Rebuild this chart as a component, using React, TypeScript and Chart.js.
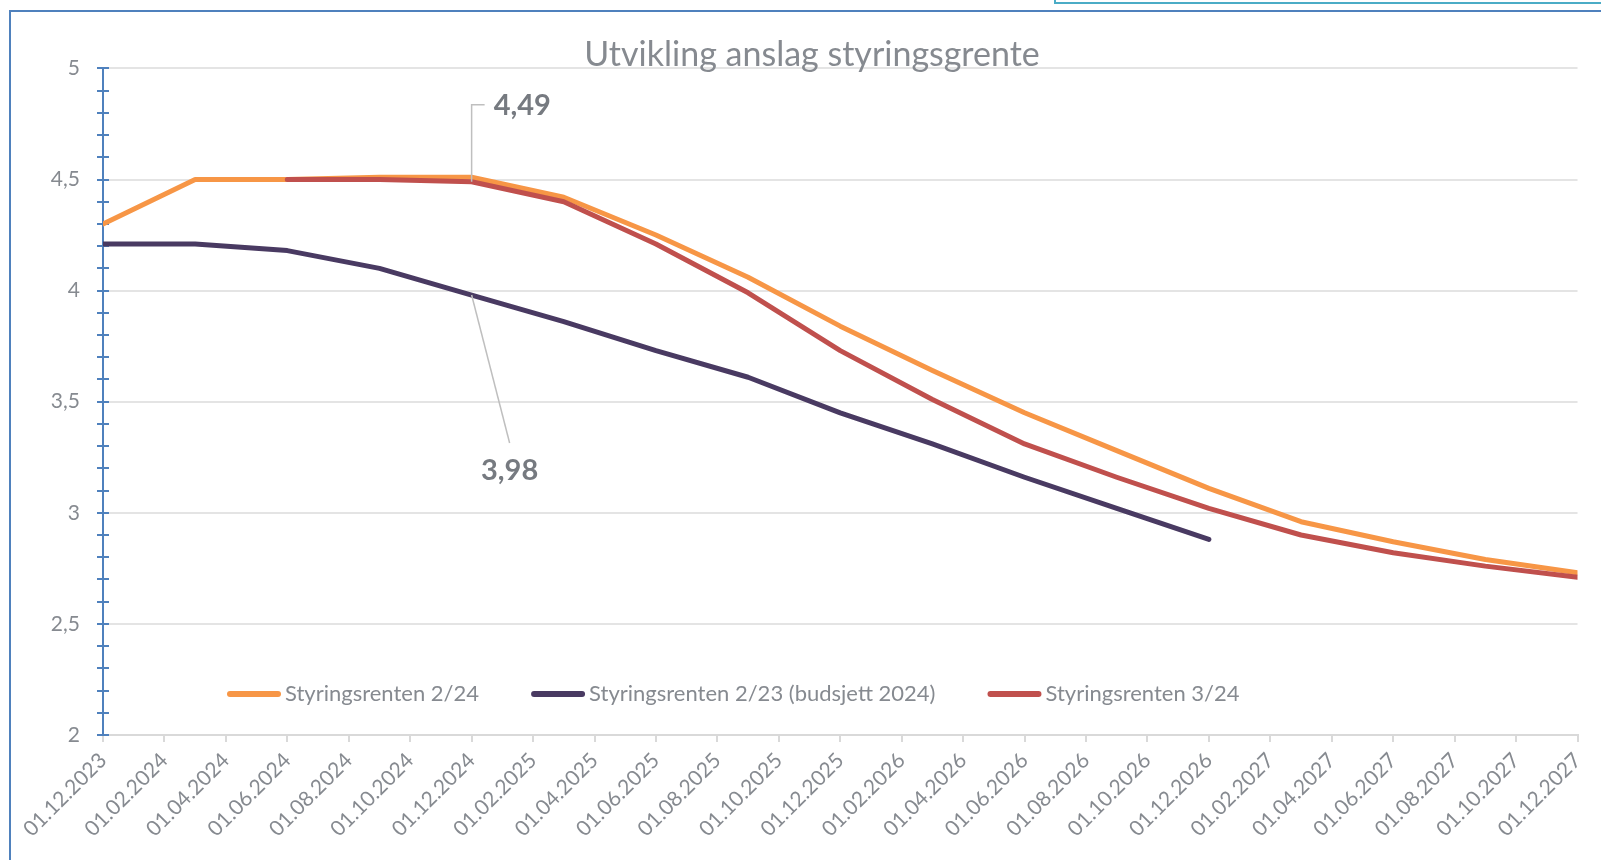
import React, { useEffect, useRef } from 'react';
import Chart from 'chart.js/auto';

const chartTitle = 'Utvikling anslag styringsgrente';

const xTickLabels = [
  '01.12.2023', '01.02.2024', '01.04.2024', '01.06.2024', '01.08.2024', '01.10.2024', '01.12.2024',
  '01.02.2025', '01.04.2025', '01.06.2025', '01.08.2025', '01.10.2025', '01.12.2025',
  '01.02.2026', '01.04.2026', '01.06.2026', '01.08.2026', '01.10.2026', '01.12.2026',
  '01.02.2027', '01.04.2027', '01.06.2027', '01.08.2027', '01.10.2027', '01.12.2027',
];

const forecastDates = [
  '01.12.2023', '01.03.2024', '01.06.2024', '01.09.2024', '01.12.2024',
  '01.03.2025', '01.06.2025', '01.09.2025', '01.12.2025',
  '01.03.2026', '01.06.2026', '01.09.2026', '01.12.2026',
  '01.03.2027', '01.06.2027', '01.09.2027', '01.12.2027',
];

const seriesNames = [
  'Styringsrenten 2/24',
  'Styringsrenten 2/23 (budsjett 2024)',
  'Styringsrenten 3/24',
];

const rente224: (number | null)[] = [4.30, 4.50, 4.50, 4.51, 4.51, 4.42, 4.25, 4.06, 3.84, 3.64, 3.45, 3.28, 3.11, 2.96, 2.87, 2.79, 2.73];
const rente223: (number | null)[] = [4.21, 4.21, 4.18, 4.10, 3.98, 3.86, 3.73, 3.61, 3.45, 3.31, 3.16, 3.02, 2.88, null, null, null, null];
const rente324: (number | null)[] = [null, null, 4.50, 4.50, 4.49, 4.40, 4.21, 3.99, 3.73, 3.51, 3.31, 3.16, 3.02, 2.90, 2.82, 2.76, 2.71];

const seriesColors = ['#F79646', '#493A62', '#C0504D'];

const yMin = 2;
const yMax = 5;
const yMinorStep = 0.1;
const yMajorStep = 0.5;

// callouts: [series index, date]
const calloutSeries = [2, 1];
const calloutDates = ['01.12.2024', '01.12.2024'];

const TEXT = '#868A90';
const FONT = 'Lato, "Open Sans", sans-serif';

function monthIndex(d: string): number {
  const [, mm, yyyy] = d.split('.').map(Number);
  return (yyyy - 2023) * 12 + (mm - 12);
}
const xFirst = monthIndex(xTickLabels[0]);
const xLast = monthIndex(xTickLabels[xTickLabels.length - 1]);
const xStep = monthIndex(xTickLabels[1]) - xFirst;

const seriesValues = [rente224, rente223, rente324];

function toPoints(vals: (number | null)[]) {
  return forecastDates.map((d, i) => ({ x: monthIndex(d), y: vals[i] }));
}
const fmt = (v: number, digits: number) => v.toFixed(digits).replace('.', ',');
const isMajor = (v: number) => Math.abs(v / yMajorStep - Math.round(v / yMajorStep)) < 1e-6;

const axisTickPlugin = {
  id: 'axisTicks',
  beforeDatasetsDraw(chart: any) {
    const { ctx, chartArea, scales } = chart;
    const ys = scales.y;
    ctx.save();
    ctx.strokeStyle = '#4F81BD';
    ctx.lineWidth = 2;
    ys.ticks.forEach((t: any) => {
      const y = Math.round(ys.getPixelForValue(t.value));
      ctx.beginPath();
      ctx.moveTo(chartArea.left - 6, y);
      ctx.lineTo(chartArea.left + 6, y);
      ctx.stroke();
    });
    ctx.restore();
  },
};

const legendPlugin = {
  id: 'insideLegend',
  afterDraw(chart: any) {
    const { ctx, chartArea } = chart;
    const y = chartArea.bottom - 41;
    let x = chartArea.left + 124;
    ctx.save();
    ctx.font = `22px ${FONT}`;
    ctx.textBaseline = 'middle';
    ctx.textAlign = 'left';
    seriesNames.forEach((name, i) => {
      ctx.strokeStyle = seriesColors[i];
      ctx.lineWidth = 6;
      ctx.lineCap = 'round';
      ctx.beginPath();
      ctx.moveTo(x + 3, y);
      ctx.lineTo(x + 51, y);
      ctx.stroke();
      ctx.fillStyle = TEXT;
      ctx.fillText(name, x + 58, y);
      x += 58 + ctx.measureText(name).width + 52;
    });
    ctx.restore();
  },
};

const calloutPlugin = {
  id: 'callouts',
  afterDatasetsDraw(chart: any) {
    const { ctx, scales } = chart;
    ctx.save();
    ctx.font = `bold 29px ${FONT}`;
    ctx.fillStyle = '#767A80';
    ctx.strokeStyle = '#BFBFBF';
    ctx.lineWidth = 1.5;
    ctx.textBaseline = 'middle';
    calloutSeries.forEach((s, k) => {
      const idx = forecastDates.indexOf(calloutDates[k]);
      const v = seriesValues[s][idx] as number;
      const px = scales.x.getPixelForValue(monthIndex(calloutDates[k]));
      const py = scales.y.getPixelForValue(v);
      const label = fmt(v, 2);
      ctx.beginPath();
      if (k === 0) {
        ctx.moveTo(px, py);
        ctx.lineTo(px, py - 77);
        ctx.lineTo(px + 13, py - 77);
        ctx.stroke();
        ctx.textAlign = 'left';
        ctx.fillText(label, px + 22, py - 76);
      } else {
        ctx.moveTo(px, py);
        ctx.lineTo(px + 38, py + 148);
        ctx.stroke();
        ctx.textAlign = 'center';
        ctx.fillText(label, px + 38, py + 176);
      }
    });
    ctx.restore();
  },
};

export default function App() {
  const ref = useRef<HTMLCanvasElement | null>(null);

  useEffect(() => {
    if (!ref.current) return;
    const chart = new Chart(ref.current, {
      type: 'line',
      data: {
        datasets: seriesNames.map((name, i) => ({
          label: name,
          data: toPoints(seriesValues[i]) as any,
          borderColor: seriesColors[i],
          backgroundColor: seriesColors[i],
          borderWidth: 5,
          pointRadius: 0,
          borderCapStyle: 'round' as const,
          borderJoinStyle: 'round' as const,
          tension: 0,
          spanGaps: false,
          order: [2, 1, 0][i],
        })),
      },
      options: {
        responsive: false,
        animation: false,
        devicePixelRatio: 1,
        events: [],
        layout: { padding: { left: 46.5, right: 36.5, top: 0, bottom: 0 } },
        plugins: {
          legend: { display: false },
          tooltip: { enabled: false },
          title: {
            display: true,
            text: chartTitle,
            color: TEXT,
            font: { family: FONT, size: 34, weight: 'normal', lineHeight: 1.0 },
            padding: { top: 38.5, bottom: -4.1 },
          },
        },
        scales: {
          x: {
            type: 'linear',
            min: xFirst,
            max: xLast,
            afterFit: (s: any) => { s.height = 125; },
            ticks: {
              stepSize: xStep,
              autoSkip: false,
              maxRotation: 45,
              minRotation: 45,
              padding: 6,
              color: TEXT,
              font: { family: FONT, size: 21 },
              callback: (v: any) => xTickLabels[Math.round((Number(v) - xFirst) / xStep)] ?? '',
            },
            grid: {
              drawOnChartArea: false,
              drawTicks: true,
              tickLength: 7,
              tickColor: '#D9D9D9',
              lineWidth: 2,
            },
            border: { display: true, color: '#D9D9D9', width: 2 },
          },
          y: {
            type: 'linear',
            min: yMin,
            max: yMax,
            afterFit: (s: any) => { s.width = 56.5; },
            ticks: {
              stepSize: yMinorStep,
              autoSkip: false,
              padding: 23,
              color: TEXT,
              font: { family: FONT, size: 21 },
              callback: (v: any) => (isMajor(Number(v)) ? fmt(Number(v), Number.isInteger(Math.round(Number(v) * 10) / 10) ? 0 : 1) : ''),
            },
            grid: {
              drawTicks: false,
              lineWidth: 2,
              color: (c: any) => (c.tick && isMajor(c.tick.value) && c.tick.value !== yMin ? '#E4E4E4' : 'rgba(0,0,0,0)'),
            },
            border: { display: true, color: '#4F81BD', width: 2 },
          },
        },
      },
      plugins: [axisTickPlugin, calloutPlugin, legendPlugin],
    });
    return () => chart.destroy();
  }, []);

  return (
    <div style={{ position: 'fixed', left: 0, top: 0, width: 1601, height: 860, background: '#fff', overflow: 'hidden' }}>
      <div style={{ position: 'absolute', left: 9, top: 10, width: 1700, height: 900, borderLeft: '2px solid #4F81BD', borderTop: '2px solid #4F81BD' }} />
      <div style={{ position: 'absolute', left: 1054, top: -20, width: 600, height: 20, border: '2px solid #4BACC6' }} />
      <canvas ref={ref} width={1614} height={860} style={{ position: 'absolute', left: 0, top: 0, width: 1614, height: 860 }} />
    </div>
  );
}
